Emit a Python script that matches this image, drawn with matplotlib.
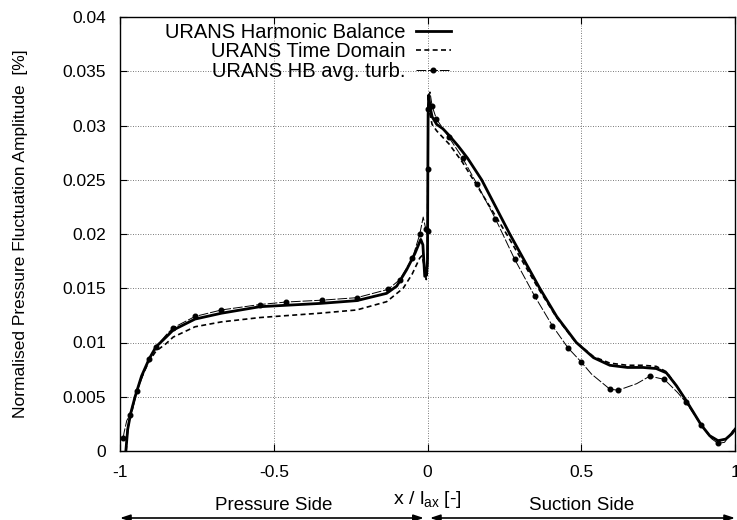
import matplotlib
matplotlib.use("Agg")
import matplotlib.pyplot as plt

plt.rcParams['font.family'] = ['Liberation Sans', 'DejaVu Sans']
plt.rcParams['mathtext.default'] = 'regular'

# URANS Harmonic Balance
x_hb = [-0.981, -0.975, -0.965, -0.951, -0.93, -0.905, -0.883, -0.85, -0.827, -0.756,
        -0.67, -0.545, -0.35, -0.23, -0.133, -0.1, -0.068, -0.041, -0.022, -0.015,
        -0.009, -0.003, 0.0, 0.001, 0.002, 0.004, 0.008, 0.015, 0.03, 0.05,
        0.07, 0.1, 0.13, 0.176, 0.22, 0.2675, 0.32, 0.365, 0.42, 0.484,
        0.54, 0.593, 0.65, 0.7, 0.744, 0.777, 0.81, 0.84, 0.864, 0.89,
        0.918, 0.945, 0.97, 0.99, 1.0]
y_hb = [0.0, 0.002, 0.0035, 0.005, 0.0069, 0.0085, 0.0096, 0.0105, 0.01115, 0.01216,
        0.0127, 0.0133, 0.0136, 0.01386, 0.01453, 0.0152, 0.0167, 0.0182, 0.0195, 0.019,
        0.0161, 0.0162, 0.0176, 0.025, 0.031, 0.0328, 0.0318, 0.0308, 0.0301, 0.0297,
        0.0291, 0.0281, 0.027, 0.025, 0.0226, 0.02, 0.0173, 0.015, 0.0124, 0.01,
        0.0086, 0.0079, 0.0077, 0.0077, 0.0076, 0.0072, 0.006, 0.0047, 0.0036, 0.0024,
        0.0014, 0.00095, 0.0011, 0.0016, 0.002]

# URANS Time Domain
x_td = [-0.98, -0.975, -0.965, -0.951, -0.93, -0.905, -0.883, -0.85, -0.827, -0.756,
        -0.67, -0.545, -0.35, -0.23, -0.133, -0.079, -0.05, -0.025, -0.018, -0.01,
        -0.004, 0.0, 0.001, 0.002, 0.004, 0.008, 0.015, 0.03, 0.07, 0.114,
        0.16, 0.257, 0.36, 0.42, 0.48, 0.54, 0.593, 0.65, 0.7, 0.744,
        0.777, 0.81, 0.84, 0.864, 0.89, 0.918, 0.945, 0.97, 0.99, 1.0]
y_td = [0.0, 0.002, 0.0035, 0.005, 0.0068, 0.0083, 0.0092, 0.0099, 0.0105, 0.01145,
        0.0119, 0.0123, 0.0127, 0.013, 0.01376, 0.015, 0.0163, 0.0178, 0.018, 0.017,
        0.0158, 0.017, 0.025, 0.031, 0.0325, 0.031, 0.0301, 0.0295, 0.0283, 0.0266,
        0.0245, 0.02, 0.015, 0.0123, 0.0101, 0.0087, 0.0081, 0.0079, 0.0079, 0.0078,
        0.0073, 0.006, 0.0047, 0.0036, 0.0024, 0.0014, 0.00095, 0.0011, 0.0016, 0.002]

# URANS HB avg. turb.
x_av = [-0.99, -0.986, -0.978, -0.968, -0.959, -0.945, -0.926, -0.905, -0.883, -0.85,
        -0.827, -0.756, -0.67, -0.545, -0.46, -0.344, -0.23, -0.128, -0.09, -0.049,
        -0.025, -0.014, -0.006, 0.0, 0.001, 0.002, 0.008, 0.015, 0.029, 0.07,
        0.114, 0.161, 0.221, 0.283, 0.348, 0.406, 0.457, 0.5, 0.533, 0.593,
        0.62, 0.68, 0.723, 0.77, 0.813, 0.84, 0.864, 0.89, 0.923, 0.945,
        0.966, 0.993, 1.0]
y_av = [0.0012, 0.0018, 0.0028, 0.0033, 0.0038, 0.0055, 0.0069, 0.0085, 0.0096, 0.0107,
        0.01136, 0.0124, 0.013, 0.0135, 0.01373, 0.0139, 0.01413, 0.0149, 0.0158, 0.01777,
        0.02, 0.02156, 0.0205, 0.0203, 0.026, 0.0315, 0.0331, 0.0318, 0.0306, 0.0289,
        0.027, 0.0246, 0.0214, 0.0177, 0.0143, 0.01155, 0.0095, 0.0082, 0.0071, 0.0057,
        0.0056, 0.0062, 0.0069, 0.0066, 0.0054, 0.0045, 0.0035, 0.0024, 0.00115, 0.0007,
        0.0008, 0.0019, 0.002]

x_ticks = [-1, -0.5, 0, 0.5, 1]
x_ticklabels = ['-1', '-0.5', '0', '0.5', '1']
y_ticks = [0, 0.005, 0.01, 0.015, 0.02, 0.025, 0.03, 0.035, 0.04]
y_ticklabels = ['0', '0.005', '0.01', '0.015', '0.02', '0.025', '0.03', '0.035', '0.04']

fs = 12.5
fig = plt.figure(figsize=(7.37, 5.20), dpi=100)
ax = fig.add_axes([120/737, 1-451/520, 615/737, 434/520])

ax.plot(x_hb, y_hb, color='black', lw=2.0, label='URANS Harmonic Balance')
ax.plot(x_td, y_td, color='black', lw=1.2, ls=(0, (3, 2)), label='URANS Time Domain')
ax.plot(x_av, y_av, color='black', lw=0.7, ls=(0, (10, 2)), marker='o', ms=3.3,
        markevery=0.034, label='URANS HB avg. turb.')

ax.set_xlim(-1, 1)
ax.set_ylim(0, 0.04)
ax.set_xticks(x_ticks)
ax.set_xticklabels(x_ticklabels, fontsize=fs)
ax.set_yticks(y_ticks)
ax.set_yticklabels(y_ticklabels, fontsize=fs)
ax.tick_params(direction='in', top=True, right=True, length=5, width=0.8, pad=10)
ax.grid(True, color='0.3', lw=0.6, ls=(0, (1, 2)))
for s in ax.spines.values():
    s.set_linewidth(1.0)

ax.set_ylabel('Normalised Pressure Fluctuation Amplitude  [%]', fontsize=fs)
ax.yaxis.set_label_coords(-92/615, 0.5)

leg = ax.legend(loc='upper right', bbox_to_anchor=(0.561, 1.019), frameon=False,
                markerfirst=False, fontsize=14.5, handlelength=1.75, labelspacing=0.02,
                handletextpad=0.5, borderpad=0.2, numpoints=1)
leg._legend_box.align = 'right'
leg.get_lines()[2].set_markevery([1])

# bottom annotations
ax.annotate(r'x / l$_{ax}$ [-]', xy=(0, 1-499/520), xycoords=('data', 'figure fraction'),
            ha='center', va='center', fontsize=14)
ax.annotate('Pressure Side', xy=(-0.5, 1-505/520), xycoords=('data', 'figure fraction'),
            ha='center', va='center', fontsize=13.5)
ax.annotate('Suction Side', xy=(0.5, 1-505/520), xycoords=('data', 'figure fraction'),
            ha='center', va='center', fontsize=13.5)
arrow = dict(arrowstyle='<|-|>,head_length=0.6,head_width=0.2', color='black', lw=1.2,
             shrinkA=0, shrinkB=0, mutation_scale=10)
ax.annotate('', xy=(-0.012, 1-518/520), xytext=(-1, 1-518/520),
            xycoords=('data', 'figure fraction'), textcoords=('data', 'figure fraction'),
            arrowprops=arrow, annotation_clip=False)
ax.annotate('', xy=(1.0, 1-518/520), xytext=(0.008, 1-518/520),
            xycoords=('data', 'figure fraction'), textcoords=('data', 'figure fraction'),
            arrowprops=arrow, annotation_clip=False)

fig.savefig('out.png', dpi=100)
